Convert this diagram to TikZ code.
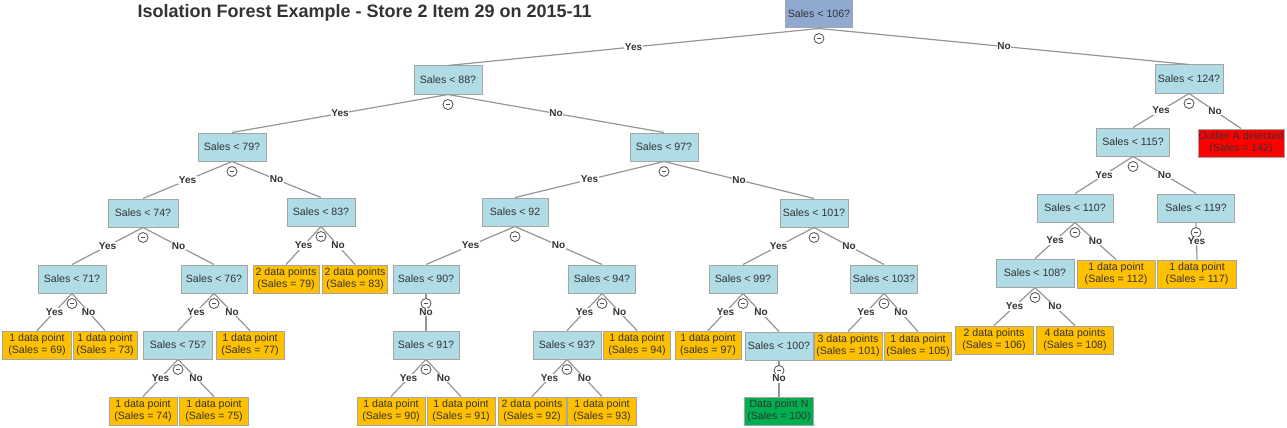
\documentclass[tikz,border=0pt]{standalone}
\usepackage{fontspec}
\setmainfont{Liberation Sans}
\begin{document}
\begin{tikzpicture}[x=1pt,y=-1pt]
\definecolor{qblue}{RGB}{176,220,230}
\definecolor{rootblue}{RGB}{143,169,209}
\definecolor{leaforange}{RGB}{255,192,0}
\definecolor{outred}{RGB}{255,0,0}
\definecolor{dpgreen}{RGB}{0,176,80}
\definecolor{bordergray}{RGB}{165,165,165}
\definecolor{edgegray}{RGB}{150,150,150}
\definecolor{txt}{RGB}{51,51,51}
\tikzset{
  box/.style={draw=bordergray, line width=1pt, minimum width=68pt, minimum height=28pt,
    inner xsep=2pt, inner ysep=2pt, align=center,
    font=\fontsize{10.6}{12}\selectfont, text=txt},
  qbox/.style={box, fill=qblue},
  rootbox/.style={box, fill=rootblue, minimum width=66pt},
  leafbox/.style={box, fill=leaforange},
  edge/.style={draw=edgegray, line width=1.2pt},
  lbl/.style={fill=white, inner sep=0.8pt, font=\bfseries\fontsize{10}{11}\selectfont, text=txt},
  cbtn/.style={circle, draw=txt!85, line width=0.8pt, fill=white, minimum size=10pt, inner sep=0pt,
    path picture={\draw[txt!85, line width=0.8pt] ([xshift=2.6pt]path picture bounding box.west) -- ([xshift=-2.6pt]path picture bounding box.east);}}
}
\useasboundingbox (0,0) rectangle (1287,428);
\fill[white] (0,0) rectangle (1287,428);

\node[anchor=base west, font=\bfseries\fontsize{18}{20}\selectfont, text=txt] (title) at (134,18)
  {Isolation Forest Example - Store 2 Item 29 on 2015-11};

% level 0
\node[rootbox] (r) at (819,14) {Sales < 106?};
% level 1
\node[qbox] (n88) at (448,80) {Sales < 88?};
\node[qbox] (n124) at (1189,79) {Sales < 124?};
% level 2
\node[qbox] (n79) at (232,147) {Sales < 79?};
\node[qbox] (n97) at (664,147) {Sales < 97?};
\node[qbox, minimum width=73pt] (n115) at (1133,142) {Sales < 115?};
\node[box, fill=outred, minimum width=86pt, inner xsep=0.5pt] (outA) at (1241,143) {Outlier A detected\\(Sales = 142)};
% level 3
\node[qbox, minimum width=70pt] (n74) at (143,213) {Sales < 74?};
\node[qbox] (n83) at (321,212) {Sales < 83?};
\node[qbox, minimum width=66pt] (n92) at (515,212) {Sales < 92};
\node[qbox] (n101) at (814,213) {Sales < 101?};
\node[qbox, minimum width=76pt] (n110) at (1075,208) {Sales < 110?};
\node[qbox, minimum width=77pt] (n119) at (1196,208) {Sales < 119?};
% level 4
\node[qbox] (n71) at (72,279) {Sales < 71?};
\node[qbox, minimum width=66pt] (n76) at (214,279) {Sales < 76?};
\node[leafbox, minimum width=66pt] (l79) at (286,279) {2 data points\\(Sales = 79)};
\node[leafbox, minimum width=65pt] (l83) at (355,279) {2 data points\\(Sales = 83)};
\node[qbox, minimum width=66pt] (n90) at (426,279) {Sales < 90?};
\node[qbox, minimum width=67pt] (n94) at (602,279) {Sales < 94?};
\node[qbox] (n99) at (743,279) {Sales < 99?};
\node[qbox, minimum width=67pt] (n103) at (884,279) {Sales < 103?};
\node[qbox, minimum width=78pt] (n108) at (1035,273) {Sales < 108?};
\node[leafbox, minimum width=78pt] (l112) at (1116,274) {1 data point\\(Sales = 112)};
\node[leafbox, minimum width=79pt] (l117) at (1197,274) {1 data point\\(Sales = 117)};
% level 5
\node[leafbox, minimum width=69pt] (l69) at (37,345) {1 data point\\(Sales = 69)};
\node[leafbox, minimum width=64pt] (l73) at (105,345) {1 data point\\(Sales = 73)};
\node[qbox, minimum width=69pt] (n75) at (178,345) {Sales < 75?};
\node[leafbox] (l77) at (250,345) {1 data point\\(Sales = 77)};
\node[qbox, minimum width=66pt] (n91) at (426,345) {Sales < 91?};
\node[qbox] (n93) at (567,345) {Sales < 93?};
\node[leafbox, minimum width=67pt] (l94) at (637,345) {1 data point\\(Sales = 94)};
\node[leafbox, minimum width=66pt] (l97) at (708,345) {1 data point\\(sales = 97)};
\node[qbox] (n100) at (779,346) {Sales < 100?};
\node[leafbox] (l101) at (848,346) {3 data points\\(Sales = 101)};
\node[leafbox, minimum width=67pt] (l105) at (918,346) {1 data point\\(Sales = 105)};
\node[leafbox, minimum width=78pt] (l106) at (994,340) {2 data points\\(Sales = 106)};
\node[leafbox, minimum width=77pt] (l108) at (1075,340) {4 data points\\(Sales = 108)};
% level 6
\node[leafbox] (l74) at (143,411) {1 data point\\(Sales = 74)};
\node[leafbox, minimum width=69pt] (l75) at (214,411) {1 data point\\(Sales = 75)};
\node[leafbox] (l90) at (391,411) {1 data point\\(Sales = 90)};
\node[leafbox] (l91) at (461,411) {1 data point\\(Sales = 91)};
\node[leafbox] (l92) at (532,411) {2 data points\\(Sales = 92)};
\node[leafbox, minimum width=69pt] (l93) at (602,411) {1 data point\\(Sales = 93)};
\node[box, fill=dpgreen, minimum width=69pt] (lN) at (779,411) {Data point N\\(Sales = 100)};

\def\edgelist{r/n88/Yes, r/n124/No, n88/n79/Yes, n88/n97/No, n124/n115/Yes, n124/outA/No,
  n79/n74/Yes, n79/n83/No, n97/n92/Yes, n97/n101/No, n115/n110/Yes, n115/n119/No,
  n74/n71/Yes, n74/n76/No, n83/l79/Yes, n83/l83/No, n92/n90/Yes, n92/n94/No,
  n101/n99/Yes, n101/n103/No, n110/n108/Yes, n110/l112/No, n119/l117/Yes,
  n71/l69/Yes, n71/l73/No, n76/n75/Yes, n76/l77/No, n90/n91/No, n94/n93/Yes, n94/l94/No,
  n99/l97/Yes, n99/n100/No, n103/l101/Yes, n103/l105/No, n108/l106/Yes, n108/l108/No,
  n75/l74/Yes, n75/l75/No, n91/l90/Yes, n91/l91/No, n93/l92/Yes, n93/l93/No, n100/lN/No}

\foreach \p/\c/\t in \edgelist { \draw[edge] (\p.south) -- (\c.north); }
\foreach \p in {r,n88,n124,n79,n97,n115,n74,n83,n92,n101,n110,n119,n71,n76,n90,n94,n99,n103,n108,n75,n91,n93,n100}
  { \node[cbtn] (c\p) at ([yshift=-10pt]\p.south) {}; }
\foreach \p/\c/\t in \edgelist { \path (\p.south) -- node[lbl] (t\p\c) {\t} (\c.north); }
\end{tikzpicture}
\end{document}
